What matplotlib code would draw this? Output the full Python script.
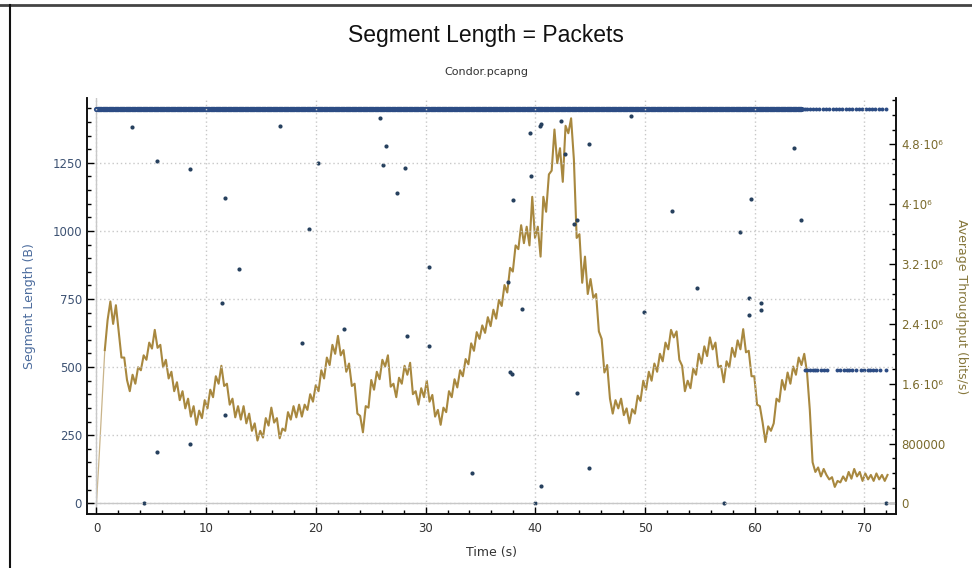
import numpy as np
import matplotlib
matplotlib.use("Agg")
import matplotlib.pyplot as plt
from matplotlib.ticker import MultipleLocator, FixedLocator
from matplotlib.lines import Line2D

# ---- data ----
seg_full = 1448           # MSS sized packets (dense band)
seg_tail = 489            # smaller packets at the end
full_times = np.arange(0, 64.3, 0.05)
full_tail_times = [64.4, 64.6, 64.8, 65.0, 65.3, 65.6, 65.9, 66.2, 66.5, 66.8, 67.1,
                   67.4, 67.7, 68.0, 68.3, 68.6, 68.9, 69.2, 69.5, 69.8, 70.1, 70.4,
                   70.7, 71.0, 71.3, 71.6, 72.0]
tail_times = [64.6, 64.8, 65.0, 65.3, 65.5, 65.7, 66.0, 66.3, 66.6, 67.5, 67.8, 68.1,
              68.4, 68.6, 68.9, 69.2, 69.7, 70.0, 70.3, 70.5, 70.8, 71.1, 71.4, 72.0]

# scattered odd-sized segments (time s, length B)
odd_t = [3.2, 5.5, 8.5, 5.5, 8.5, 4.3, 11.7, 13.0, 11.4, 11.7, 16.7, 19.4, 20.2, 22.6,
         18.7, 28.3, 30.3, 30.3, 25.8, 26.4, 26.1, 27.4, 28.1, 34.2, 39.5, 40.4, 40.5,
         42.3, 42.7, 39.6, 38.0, 37.5, 38.8, 37.7, 37.9, 43.8, 43.5, 43.8, 44.9, 40.5,
         40.0, 57.2, 72.0, 44.9, 48.7, 52.5, 54.7, 49.9, 58.7, 59.7, 59.5, 59.5, 60.6,
         60.6, 63.6, 64.2]
odd_len = [1382, 1258, 1227, 187, 217, 0, 1121, 859, 736, 324, 1385, 1008, 1250, 639,
           587, 614, 577, 869, 1415, 1312, 1241, 1140, 1230, 112, 1361, 1385, 1393,
           1403, 1281, 1202, 1113, 813, 713, 481, 474, 406, 1024, 1040, 128, 62,
           0, 0, 0, 1320, 1423, 1073, 791, 702, 997, 1117, 755, 691, 734,
           710, 1304, 1040]

# average throughput, Mbit/s, one sample every sample_step seconds
sample_step = 0.253
tput = [
    0.0, 0.65, 1.35, 2.05,
    2.45, 2.7, 2.4, 2.65,
    2.3, 1.95, 1.95, 1.65,
    1.5, 1.72, 1.6, 1.82,
    1.78, 1.98, 1.92, 2.15,
    2.07, 2.32, 2.08, 2.12,
    1.82, 1.92, 1.67, 1.76,
    1.5, 1.62, 1.38, 1.5,
    1.27, 1.4, 1.16, 1.3,
    1.05, 1.24, 1.14, 1.38,
    1.27, 1.52, 1.42, 1.7,
    1.6, 1.84, 1.57, 1.6,
    1.32, 1.4, 1.15, 1.3,
    1.12, 1.3, 1.07, 1.2,
    0.97, 1.07, 0.84, 0.97,
    0.88, 1.14, 1.04, 1.28,
    1.08, 1.14, 0.87, 1.0,
    0.97, 1.22, 1.12, 1.3,
    1.15, 1.32, 1.16, 1.32,
    1.25, 1.46, 1.36, 1.58,
    1.5, 1.78, 1.67, 1.95,
    1.85, 2.12, 2.0, 2.24,
    1.98, 2.05, 1.76, 1.87,
    1.57, 1.6, 1.2, 1.17,
    0.95, 1.3, 1.28, 1.65,
    1.52, 1.76, 1.66, 1.92,
    1.83, 1.98, 1.56, 1.6,
    1.42, 1.68, 1.6, 1.84,
    1.72, 1.88, 1.46, 1.5,
    1.32, 1.54, 1.42, 1.64,
    1.36, 1.45, 1.16, 1.25,
    1.05, 1.28, 1.22, 1.5,
    1.42, 1.66, 1.55, 1.78,
    1.7, 1.93, 1.86, 2.14,
    2.04, 2.29, 2.2, 2.38,
    2.28, 2.49, 2.37, 2.59,
    2.47, 2.72, 2.64, 2.92,
    2.82, 3.15, 3.1, 3.45,
    3.4, 3.72, 3.48, 3.7,
    3.45, 4.1, 3.55, 3.7,
    3.3, 4.1, 3.9, 4.4,
    4.45, 5.0, 4.55, 4.75,
    4.3, 5.05, 4.95, 5.15,
    4.6, 3.55, 3.6, 2.95,
    3.3, 2.8, 3.0, 2.75,
    2.8, 2.3, 2.2, 1.75,
    1.85, 1.4, 1.2, 1.38,
    1.27, 1.4, 1.18, 1.27,
    1.07, 1.26, 1.2, 1.44,
    1.37, 1.64, 1.52, 1.76,
    1.64, 1.87, 1.76, 2.0,
    1.9, 2.15, 2.06, 2.32,
    2.22, 2.3, 1.92, 1.84,
    1.5, 1.64, 1.54, 1.8,
    1.72, 2.0, 1.87, 2.1,
    1.97, 2.22, 2.06, 2.15,
    1.82, 1.84, 1.62, 1.9,
    1.82, 2.08, 1.96, 2.18,
    2.06, 2.33, 2.02, 2.04,
    1.7, 1.7, 1.32, 1.3,
    1.08, 0.82, 1.03, 0.97,
    1.07, 1.4, 1.36, 1.65,
    1.52, 1.75, 1.6, 1.83,
    1.72, 1.95, 1.85, 2.0,
    1.75, 1.25, 0.55, 0.42,
    0.48, 0.36, 0.46, 0.38,
    0.32, 0.35, 0.22, 0.3,
    0.28, 0.36, 0.3, 0.42,
    0.33, 0.46, 0.36, 0.42,
    0.3, 0.4, 0.32, 0.38,
    0.3, 0.4, 0.32, 0.38,
    0.3, 0.38,
]
tput_t = np.arange(len(tput)) * sample_step
tput_bits = np.array(tput) * 1e6

x_ticks = [0, 10, 20, 30, 40, 50, 60, 70]
left_ticks = [0, 250, 500, 750, 1000, 1250]
right_ticks = [0, 800000, 1600000, 2400000, 3200000, 4000000, 4800000]
right_labels = ["0", "800000", "1.6·10⁶", "2.4·10⁶", "3.2·10⁶", "4·10⁶", "4.8·10⁶"]

blue = "#2c4c84"
gold = "#a8883f"
grid_c = "#c8c8c8"

plt.rcParams['font.family'] = ['DejaVu Sans']

fig = plt.figure(figsize=(9.72, 5.68), dpi=100)
ax = fig.add_axes([0.090, 0.095, 0.8315, 0.732])
ax2 = ax.twinx()

# throughput line on the right axis (thin start-up ramp, then the noisy band)
ax2.plot(tput_t[:4], tput_bits[:4], color="#c9b48a", lw=0.9)
ax2.plot(tput_t[3:], tput_bits[3:], color=gold, lw=1.5)

# segment dots on the left axis, drawn on top
ax.scatter(full_times, [seg_full] * len(full_times), s=14, color=blue, lw=0)
ax.scatter(full_tail_times, [seg_full] * len(full_tail_times), s=8, color=blue, lw=0)
ax.scatter(tail_times, [seg_tail] * len(tail_times), s=8, color=blue, lw=0)
ax.scatter(odd_t, odd_len, s=9, color="#26405e", lw=0)
ax.set_zorder(ax2.get_zorder() + 1)
ax.patch.set_visible(False)

ax.set_xlim(-0.82, 72.85)
ax.set_ylim(-39.4, 1487)
ax2.set_ylim(-143000, 5418000)

ax.axhline(0, color=grid_c, lw=1, zorder=0)
ax.axvline(0, color=grid_c, lw=1, zorder=0)

ax.xaxis.set_major_locator(FixedLocator(x_ticks))
ax.xaxis.set_minor_locator(MultipleLocator(2))
ax.yaxis.set_major_locator(FixedLocator(left_ticks))
ax.yaxis.set_minor_locator(MultipleLocator(50))
ax2.yaxis.set_major_locator(FixedLocator(right_ticks))
ax2.set_yticklabels(right_labels)
ax2.yaxis.set_minor_locator(MultipleLocator(200000))

ax.grid(True, which='major', color=grid_c, ls=(0, (1, 2)), lw=1)

for a in (ax, ax2):
    a.spines['top'].set_visible(False)
    for s in ('left', 'right', 'bottom'):
        a.spines[s].set_color('#111111')
        a.spines[s].set_linewidth(1.2)
    a.tick_params(which='major', direction='in', length=5, width=1)
    a.tick_params(which='minor', direction='in', length=3, width=1)

ax.tick_params(axis='x', labelsize=8.5, labelcolor='#333333', pad=6)
ax.tick_params(axis='y', labelsize=8.5, labelcolor='#3d5273', pad=4)
ax2.tick_params(axis='y', labelsize=8.5, labelcolor='#7a6a2c', pad=4)

ax.set_xlabel("Time (s)", fontsize=9, color='#333333', labelpad=8)
ax.set_ylabel("Segment Length (B)", fontsize=9, color='#4d6d9e', labelpad=12)
ax2.set_ylabel("Average Throughput (bits/s)", fontsize=9, color='#86773c',
               rotation=270, labelpad=16)

fig.text(0.5, 0.938, "Segment Length = Packets", ha='center', va='center',
         fontsize=16.5, family=['Liberation Sans', 'DejaVu Sans'], color='#111111')
fig.text(0.5, 0.873, "Condor.pcapng", ha='center', va='center', fontsize=8,
         color='#333333')

# image border (top and left)
fig.add_artist(Line2D([0, 1], [0.991, 0.991], transform=fig.transFigure,
                      color='#444444', lw=2))
fig.add_artist(Line2D([0.0105, 0.0105], [0, 0.991], transform=fig.transFigure,
                      color='#111111', lw=1.5))

fig.savefig("out.png", dpi=100)
